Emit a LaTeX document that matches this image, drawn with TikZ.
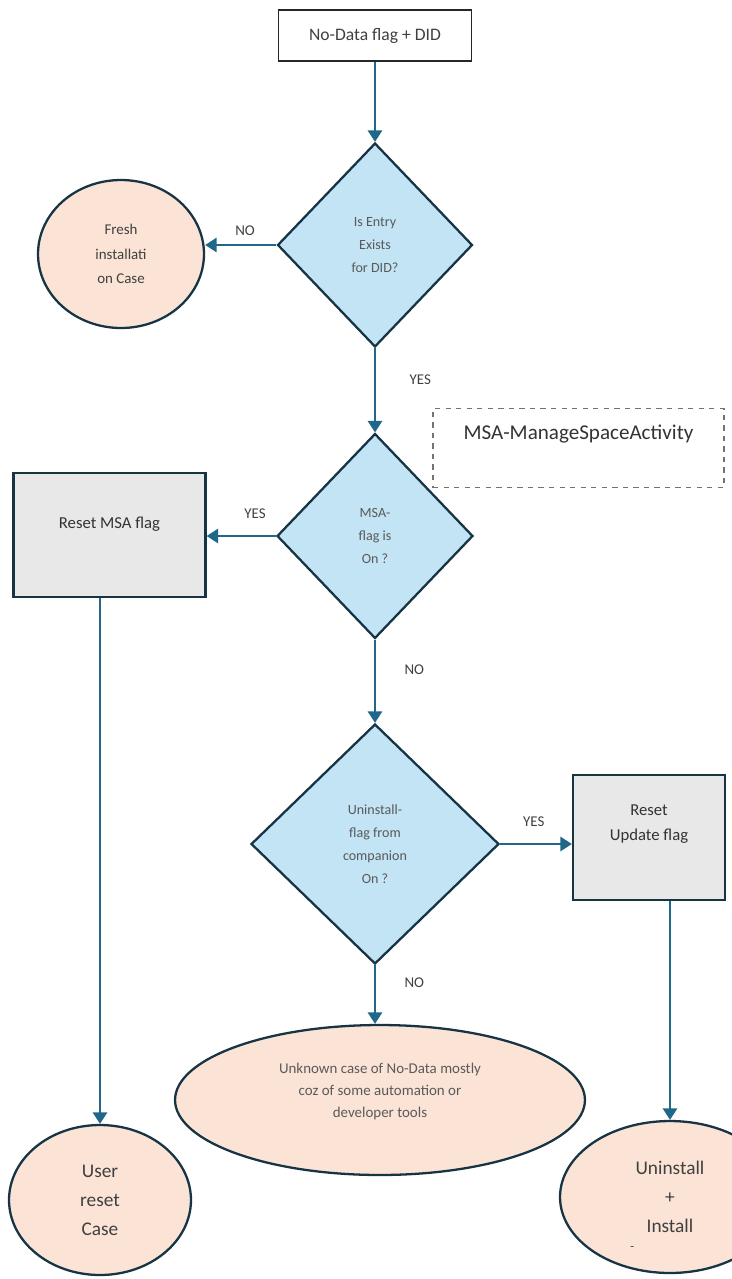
\documentclass[tikz,border=0pt]{standalone}
\usepackage{fontspec}
\setmainfont{Carlito}
\usetikzlibrary{shapes.geometric}
\usetikzlibrary{arrows.meta}
\usetikzlibrary{positioning}
\definecolor{flowline}{RGB}{31,104,138}
\definecolor{edgedark}{RGB}{23,52,68}
\definecolor{decfill}{RGB}{194,228,244}
\definecolor{endfill}{RGB}{251,227,214}
\definecolor{boxfill}{RGB}{232,232,232}
\definecolor{txtgray}{RGB}{90,90,90}

\begin{document}
\begin{tikzpicture}[x=0.02cm,y=-0.02cm,>={Triangle[length=6.5pt,width=8pt]},
    flow/.style={->,draw=flowline,line width=1.4pt},
    start node/.style={rectangle,draw=black!85,line width=0.8pt,fill=white,font=\fontsize{10}{12}\selectfont,text=black!75},
    dec node/.style={diamond,draw=edgedark,line width=1.3pt,fill=decfill,inner sep=0pt,align=center,text=txtgray,font=\fontsize{8}{13}\selectfont},
    end node/.style={ellipse,draw=edgedark,line width=1.3pt,fill=endfill,inner sep=0pt,align=center,text=black!75},
    act node/.style={rectangle,draw=edgedark,line width=1.3pt,fill=boxfill},
    act text/.style={anchor=north,align=center,text=black!80,font=\fontsize{9.5}{14}\selectfont},
    note node/.style={rectangle,draw=black!55,dashed,line width=0.8pt},
    lbl/.style={text=black!75,font=\fontsize{8.5}{10}\selectfont}]

  \clip (0,0) rectangle (732,1279);

  % nodes
  \node[start node,minimum width=3.86cm,minimum height=1.02cm] (top) at (375,35.5) {No-Data flag + DID};

  \node[dec node,minimum width=3.9cm,minimum height=4.08cm] (entry) at (375,245) {Is Entry\\Exists\\for DID?};
  \node[end node,minimum width=3.32cm,minimum height=2.96cm,font=\fontsize{8.5}{14}\selectfont] (fresh) at (121,254) {Fresh\\installati\\on Case};

  \node[note node,minimum width=5.82cm,minimum height=1.58cm,
        label={[anchor=north,yshift=-0.22cm,text=black!80,font=\fontsize{12}{14}\selectfont]north:MSA-ManageSpaceActivity}] (msanote) at (578.5,448) {};

  \node[dec node,minimum width=3.92cm,minimum height=4.1cm] (msaflag) at (375,536) {MSA-\\flag is\\On ?};
  \node[act node,minimum width=3.84cm,minimum height=2.48cm,
        label={[act text,yshift=-0.78cm]north:Reset MSA flag}] (resetmsa) at (109.5,535) {};

  \node[dec node,minimum width=4.96cm,minimum height=4.8cm] (uninst) at (375,844) {Uninstall-\\flag from\\companion\\On ?};
  \node[act node,minimum width=3.04cm,minimum height=2.5cm,
        label={[act text,yshift=-0.5cm]north:Reset\\Update flag}] (resetupd) at (649,837.5) {};

  \node[end node,minimum width=8.2cm,minimum height=3cm,text=txtgray,font=\fontsize{8.5}{12.5}\selectfont] (unknown) at (380,1100) {Unknown case of No-Data mostly\\coz of some automation or\\developer tools\\[-1pt]};
  \node[end node,minimum width=3.64cm,minimum height=3cm,font=\fontsize{11}{16.5}\selectfont] (userreset) at (100,1200) {User\\reset\\Case};
  \node[end node,minimum width=4.4cm,minimum height=3.04cm,font=\fontsize{11}{16.5}\selectfont] (reinstall) at (670,1197) {Uninstall\\+\\\llap{\smash{\raisebox{-10pt}{\scriptsize -}}\hspace{0.25cm}}Install};

  % connectors
  \draw[flow] (top) -- (entry);
  \draw[flow] (entry.west) -- (entry.west -| fresh.east) node[lbl,pos=0.44,above=0.05cm] {NO};
  \draw[flow] (entry) -- (msaflag) node[lbl,pos=0.38,right=0.55cm] {YES};
  \draw[flow] (msaflag.west) -- (msaflag.west -| resetmsa.east) node[lbl,pos=0.3,above=0.2cm] {YES};
  \draw[flow] (resetmsa.south -| userreset.north) -- (userreset.north);
  \draw[flow] (msaflag) -- (uninst) node[lbl,pos=0.36,right=0.45cm] {NO};
  \draw[flow] (uninst.east) -- (uninst.east -| resetupd.west) node[lbl,pos=0.47,above=0.2cm] {YES};
  \draw[flow] (resetupd.south -| reinstall.north) -- (reinstall.north);
  \draw[flow] (uninst.south) -- (uninst.south |- unknown.north) node[lbl,pos=0.3,right=0.45cm] {NO};

\end{tikzpicture}
\end{document}
